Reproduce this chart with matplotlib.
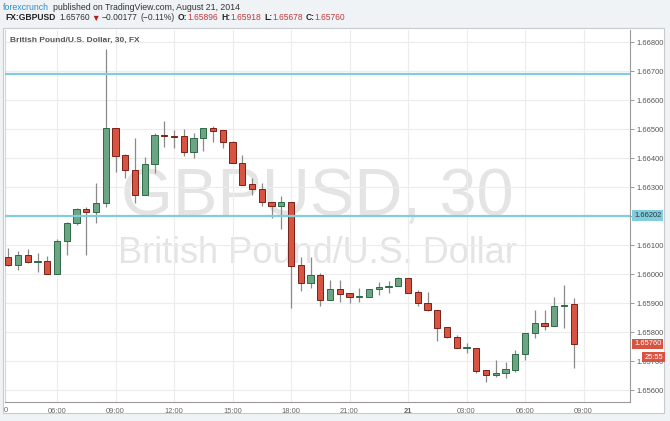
import matplotlib
matplotlib.use("Agg")
import matplotlib.pyplot as plt
import matplotlib.patches as mpatches
import numpy as np

W, H = 670, 421
BG, PANEL, EDGE = "#eff3f6", "#ffffff", "#c8cbce"
UP, UP_EDGE = "#6ba583", "#2d6a45"
DN, DN_EDGE = "#d75442", "#7a2117"
WICK, GRID, TXT = "#8a8a8a", "#ececec", "#555555"
LEVEL = "#80cddd"

plt.rcParams["font.family"] = ["Liberation Sans", "DejaVu Sans"]

# 30-minute candles, GBPUSD, Aug 20 03:30 -> Aug 21 08:30
opens = [1.66061, 1.66032, 1.66067, 1.66042, 1.66046, 1.66000, 1.66114, 1.66178, 1.66224, 1.66216,
         1.66245, 1.66503, 1.66412, 1.66358, 1.66273, 1.66381, 1.66481, 1.66478, 1.66476, 1.66422,
         1.66469, 1.66503, 1.66498, 1.66455, 1.66383, 1.66310, 1.66293, 1.66251, 1.66236, 1.66248,
         1.66031, 1.65971, 1.65998, 1.65910, 1.65951, 1.65935, 1.65922, 1.65923, 1.65948, 1.65955,
         1.65958, 1.65986, 1.65939, 1.65902, 1.65876, 1.65817, 1.65784, 1.65745, 1.65745, 1.65669,
         1.65652, 1.65659, 1.65670, 1.65725, 1.65798, 1.65833, 1.65823, 1.65890, 1.65896]
highs = [1.66090, 1.66082, 1.66086, 1.66075, 1.66063, 1.66121, 1.66182, 1.66228, 1.66233, 1.66314,
         1.66776, 1.66503, 1.66415, 1.66471, 1.66404, 1.66486, 1.66529, 1.66498, 1.66500, 1.66486,
         1.66503, 1.66512, 1.66498, 1.66458, 1.66412, 1.66333, 1.66316, 1.66251, 1.66270, 1.66251,
         1.66061, 1.66059, 1.66006, 1.65981, 1.65981, 1.65935, 1.65953, 1.65948, 1.65974, 1.65977,
         1.65992, 1.65986, 1.65946, 1.65939, 1.65876, 1.65817, 1.65790, 1.65762, 1.65745, 1.65669,
         1.65705, 1.65699, 1.65739, 1.65799, 1.65877, 1.65877, 1.65923, 1.65963, 1.65918]
lows = [1.66030, 1.66015, 1.66040, 1.66007, 1.66000, 1.66000, 1.66065, 1.66170, 1.66065, 1.66176,
        1.66233, 1.66354, 1.66331, 1.66245, 1.66273, 1.66351, 1.66438, 1.66437, 1.66408, 1.66400,
        1.66425, 1.66456, 1.66435, 1.66383, 1.66308, 1.66274, 1.66237, 1.66193, 1.66157, 1.65885,
        1.65944, 1.65952, 1.65892, 1.65910, 1.65906, 1.65902, 1.65906, 1.65923, 1.65927, 1.65937,
        1.65958, 1.65937, 1.65892, 1.65875, 1.65769, 1.65779, 1.65745, 1.65728, 1.65661, 1.65627,
        1.65647, 1.65644, 1.65664, 1.65705, 1.65782, 1.65808, 1.65823, 1.65816, 1.65678]
closes = [1.66032, 1.66067, 1.66042, 1.66046, 1.66000, 1.66114, 1.66178, 1.66224, 1.66216, 1.66245,
          1.66503, 1.66409, 1.66358, 1.66273, 1.66381, 1.66479, 1.66477, 1.66475, 1.66422, 1.66469,
          1.66503, 1.66495, 1.66455, 1.66383, 1.66308, 1.66293, 1.66251, 1.66236, 1.66248, 1.66030,
          1.65971, 1.65998, 1.65910, 1.65951, 1.65933, 1.65922, 1.65925, 1.65948, 1.65956, 1.65961,
          1.65986, 1.65937, 1.65900, 1.65876, 1.65816, 1.65783, 1.65745, 1.65746, 1.65668, 1.65652,
          1.65660, 1.65673, 1.65725, 1.65799, 1.65833, 1.65823, 1.65891, 1.65894, 1.65760]
first_bar = -5  # bar index relative to 06:00 on Aug 20

tick_bars = [0, 6, 12, 18, 24, 30, 36, 42, 48, 54]
tick_labels = ["06:00", "09:00", "12:00", "15:00", "18:00", "21:00", "21", "03:00", "06:00", "09:00"]
price_ticks = [1.656, 1.657, 1.658, 1.659, 1.660, 1.661, 1.662, 1.663, 1.664, 1.665, 1.666, 1.667, 1.668]
levels = [1.66692, 1.66202]


def fx(px):
    return px / W


def fy(py):
    return 1 - py / H


fig = plt.figure(figsize=(W / 100, H / 100), dpi=100, facecolor=BG)

# white chart panel (behind the axes)
fig.patches.append(mpatches.Rectangle((fx(3), fy(413)), fx(661), 385 / H, transform=fig.transFigure,
                                      facecolor=PANEL, edgecolor=EDGE, lw=0.8, zorder=-5))

ax = fig.add_axes([fx(5), fy(402), fx(625), 372 / H])
ax.set_zorder(2)
ax.set_facecolor("none")
x = np.arange(len(opens)) + first_bar
ax.set_xlim((5 - 57) / 9.75, (630 - 57) / 9.75)
ax.set_ylim(1.668 - 359.7 / 29000, 1.668 + 12.3 / 29000)

# watermark
ax.text(0.5, 0.5, "GBPUSD, 30", transform=ax.transAxes, ha="center", va="baseline",
        fontsize=48, color="#e4e4e4", zorder=0)
ax.text(0.5, 0.374, "British Pound/U.S. Dollar", transform=ax.transAxes, ha="center", va="baseline",
        fontsize=26, color="#e4e4e4", zorder=0)

# candles
o, h, l, c = map(np.asarray, (opens, highs, lows, closes))
up = c >= o
ax.vlines(x, l, h, color=WICK, lw=0.9, zorder=2)
bottom = np.minimum(o, c)
height = np.maximum(np.abs(c - o), 0.00003)
ax.bar(x[up], height[up], bottom=bottom[up], width=0.62, color=UP, edgecolor=UP_EDGE, lw=0.7, zorder=3)
ax.bar(x[~up], height[~up], bottom=bottom[~up], width=0.62, color=DN, edgecolor=DN_EDGE, lw=0.7, zorder=3)

for lv in levels:
    ax.axhline(lv, color=LEVEL, lw=1.6, zorder=4)

# axes styling
ax.set_xticks(tick_bars)
ax.set_xticklabels(tick_labels)
for t, lab in zip(ax.get_xticklabels(), tick_labels):
    if lab == "21":
        t.set_fontweight("bold")
ax.set_yticks(price_ticks)
ax.set_yticklabels([f"{p:.5f}" for p in price_ticks])
ax.yaxis.tick_right()
ax.tick_params(axis="y", length=3, width=0.6, color="#888888", labelsize=5.4, labelcolor=TXT, pad=1.5)
ax.tick_params(axis="x", length=0, labelsize=5.4, labelcolor="#666666", pad=4)
ax.grid(True, color=GRID, lw=0.8, zorder=0)
ax.set_axisbelow(True)
ax.spines["top"].set_visible(False)
ax.spines["left"].set_color("#d6d6d6")
ax.spines["right"].set_color("#9a9a9a")
ax.spines["bottom"].set_color("#9a9a9a")
fig.text(fx(5.5), fy(410), "0", fontsize=5.4, color="#666666", ha="center", va="center")


# price tags on the axis
def tag(price, label, fc, tc, dy=0.0, x0=1.0):
    ax.annotate(label, xy=(x0, price), xycoords=("axes fraction", "data"), xytext=(3, dy),
                textcoords="offset points", va="center", ha="left", fontsize=5.4, color=tc,
                bbox=dict(boxstyle="square,pad=0.25", fc=fc, ec="none"), annotation_clip=False, zorder=6)


tag(levels[1], "1.66202", LEVEL, "#333333")
tag(closes[-1], "1.65760", DN, "white")
tag(closes[-1], "25:55", DN, "white", dy=-9.5, x0=1.0 + 10 / 625)

# legend line inside the chart
fig.text(fx(10), fy(40), "British Pound/U.S. Dollar, 30, FX", fontsize=6.05, fontweight="bold",
         color=TXT, va="center")

# header lines
renderer = fig.canvas.get_renderer()


def runs(x_px, y_px, parts, size):
    for text, color, weight, gap in parts:
        t = fig.text(fx(x_px), fy(y_px), text, fontsize=size, color=color, fontweight=weight, va="center")
        x_px += t.get_window_extent(renderer).width + gap


RED = "#c0393b"
runs(3, 7, [("forexcrunch", "#2f8fcb", "normal", 4),
            ("published on TradingView.com, August 21, 2014", "#333333", "normal", 0)], 6.3)
runs(5, 18, [("FX:GBPUSD", "#222222", "bold", 3.5),
             ("1.65760", "#333333", "normal", 2),
             ("▼", "#b3201a", "normal", 2),
             ("\u22120.00177", "#333333", "normal", 3),
             ("(\u22120.11%)", "#333333", "normal", 3),
             ("O:", "#222222", "bold", 0), ("1.65896", RED, "normal", 3),
             ("H:", "#222222", "bold", 0), ("1.65918", RED, "normal", 3),
             ("L:", "#222222", "bold", 0), ("1.65678", RED, "normal", 3),
             ("C:", "#222222", "bold", 0), ("1.65760", RED, "normal", 0)], 6.15)

fig.savefig("out.png", dpi=100, facecolor=BG)
